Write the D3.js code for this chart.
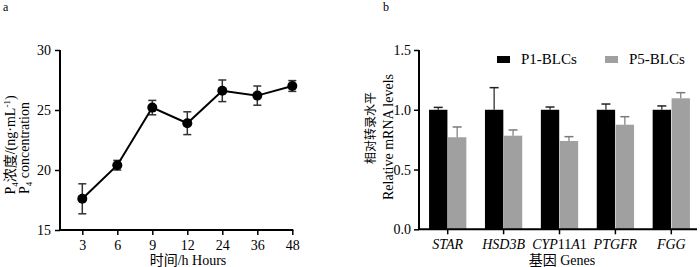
<!DOCTYPE html>
<html>
<head>
<meta charset="utf-8">
<script src="https://cdn.jsdelivr.net/npm/d3@7"></script>
<style>
  body { margin: 0; background: #fff; }
  svg text { font-family: "Liberation Serif", "Noto Sans CJK SC", serif; }
</style>
</head>
<body>
<div id="container"></div>
<script>
/* DATA */
const hours = ["3", "6", "9", "12", "24", "36", "48"];
const p4Mean = [17.6, 20.4, 25.2, 23.9, 26.6, 26.2, 27.0];
const p4Err = [1.25, 0.4, 0.6, 0.95, 0.9, 0.8, 0.45];
const p4Ticks = [15, 20, 25, 30];

const genes = ["STAR", "HSD3B", "CYP11A1", "PTGFR", "FGG"];
const series = ["P1-BLCs", "P5-BLCs"];
const p1Mean = [1.0, 1.0, 1.0, 1.0, 1.0];
const p1Err = [0.02, 0.185, 0.023, 0.048, 0.032];
const p5Mean = [0.77, 0.783, 0.739, 0.875, 1.096];
const p5Err = [0.086, 0.048, 0.036, 0.067, 0.047];
const mrnaTicks = [0, 0.5, 1.0, 1.5];

// upright digits inside CYP11A1, the rest italic
const geneParts = {
  "CYP11A1": [["CYP", true], ["11", false], ["A", true], ["1", false]]
};

const width = 700, height = 267;
const barColor = { "P1-BLCs": "#000", "P5-BLCs": "#a0a0a0" };
const errColor = { "P1-BLCs": "#222", "P5-BLCs": "#7a7a7a" };

const svg = d3.select("#container")
  .append("svg")
  .attr("width", width)
  .attr("height", height)
  .attr("font-size", 14);

/* PANEL A */
const xA = d3.scalePoint().domain(hours).range([82.3, 292.3]);
const yA = d3.scaleLinear().domain([15, 30]).range([230, 50]);

const gA = svg.append("g");

gA.append("g")
  .attr("transform", "translate(60,0)")
  .call(d3.axisLeft(yA).tickValues(p4Ticks).tickSize(5).tickSizeOuter(0).tickPadding(4))
  .call(g => g.selectAll(".domain").remove())
  .call(g => g.selectAll("line").attr("stroke-width", 1.5))
  .call(g => g.selectAll("text").attr("font-size", 14).attr("font-family", null));

gA.append("g")
  .attr("transform", "translate(0,230)")
  .call(d3.axisBottom(xA).tickSize(5).tickSizeOuter(0).tickPadding(5))
  .call(g => g.selectAll(".domain").remove())
  .call(g => g.selectAll("line").attr("stroke-width", 1.5))
  .call(g => g.selectAll("text").attr("font-size", 14).attr("font-family", null));

gA.append("path")
  .attr("d", `M60,${yA(30)}V${yA(15)}H${xA("48") + 1}`)
  .attr("fill", "none")
  .attr("stroke", "#000")
  .attr("stroke-width", 2);

const ptsA = hours.map((h, i) => ({ h, m: p4Mean[i], e: p4Err[i] }));

const errA = gA.append("g")
  .attr("stroke", "#333")
  .attr("stroke-width", 1.5)
  .selectAll("g")
  .data(ptsA)
  .join("g");
errA.append("line")
  .attr("x1", d => xA(d.h)).attr("x2", d => xA(d.h))
  .attr("y1", d => yA(d.m - d.e)).attr("y2", d => yA(d.m + d.e));
errA.append("line")
  .attr("x1", d => xA(d.h) - 4).attr("x2", d => xA(d.h) + 4)
  .attr("y1", d => yA(d.m + d.e)).attr("y2", d => yA(d.m + d.e));
errA.append("line")
  .attr("x1", d => xA(d.h) - 4).attr("x2", d => xA(d.h) + 4)
  .attr("y1", d => yA(d.m - d.e)).attr("y2", d => yA(d.m - d.e));

gA.append("path")
  .datum(ptsA)
  .attr("fill", "none")
  .attr("stroke", "#000")
  .attr("stroke-width", 2)
  .attr("d", d3.line().x(d => xA(d.h)).y(d => yA(d.m)));

gA.append("g")
  .selectAll("circle")
  .data(ptsA)
  .join("circle")
  .attr("cx", d => xA(d.h))
  .attr("cy", d => yA(d.m))
  .attr("r", 5)
  .attr("fill", "#000");

gA.append("text").attr("x", 3).attr("y", 11).attr("font-size", 12).text("a");

gA.append("text")
  .attr("text-anchor", "middle")
  .attr("x", 188).attr("y", 265)
  .text("时间/h Hours");

// rotated y label, two lines
const labA1 = gA.append("text")
  .attr("transform", "translate(15,145) rotate(-90)")
  .attr("text-anchor", "middle");
labA1.append("tspan").text("P");
labA1.append("tspan").attr("font-size", 9).attr("dy", 3).text("4");
labA1.append("tspan").attr("dy", -3).text("浓度/(ng·mL");
labA1.append("tspan").attr("font-size", 9).attr("dy", -5).text("-1");
labA1.append("tspan").attr("dy", 5).text(")");

const labA2 = gA.append("text")
  .attr("transform", "translate(29,148) rotate(-90)")
  .attr("text-anchor", "middle");
labA2.append("tspan").text("P");
labA2.append("tspan").attr("font-size", 9).attr("dy", 3).text("4");
labA2.append("tspan").attr("dy", -3).text(" concentration");

/* PANEL B */
const xB = d3.scaleBand().domain(genes).range([419.75, 699.25]).paddingInner(0.333).paddingOuter(0.1665);
const xSub = d3.scaleBand().domain(series).range([0, xB.bandwidth()]).paddingInner(0.03);
const yB = d3.scaleLinear().domain([0, 1.5]).range([229.3, 50]);

const gB = svg.append("g");

gB.append("g")
  .attr("transform", "translate(419,0)")
  .call(d3.axisLeft(yB).tickValues(mrnaTicks).tickFormat(d3.format(".1f")).tickSize(5).tickSizeOuter(0).tickPadding(3))
  .call(g => g.selectAll(".domain").remove())
  .call(g => g.selectAll("line").attr("stroke-width", 1.5))
  .call(g => g.selectAll("text").attr("font-size", 14).attr("font-family", null));

const xAxisB = gB.append("g")
  .attr("transform", "translate(0,229.3)")
  .call(d3.axisBottom(xB).tickSize(5).tickSizeOuter(0).tickPadding(5))
  .call(g => g.selectAll(".domain").remove())
  .call(g => g.selectAll("line").attr("stroke-width", 1.5));

xAxisB.selectAll(".tick").attr("transform", d => `translate(${xB(d) + xB.bandwidth() / 2},0)`);
xAxisB.selectAll(".tick text")
  .attr("font-size", 14)
  .attr("font-family", null)
  .text(null)
  .each(function (d) {
    const parts = geneParts[d] || [[d, true]];
    parts.forEach(([s, it]) => {
      d3.select(this).append("tspan")
        .attr("font-style", it ? "italic" : "normal")
        .text(s);
    });
  });

const rows = [];
genes.forEach((g, i) => {
  rows.push({ gene: g, s: series[0], m: p1Mean[i], e: p1Err[i] });
  rows.push({ gene: g, s: series[1], m: p5Mean[i], e: p5Err[i] });
});

gB.append("g")
  .selectAll("rect")
  .data(rows)
  .join("rect")
  .attr("x", d => xB(d.gene) + xSub(d.s))
  .attr("y", d => yB(d.m))
  .attr("width", xSub.bandwidth())
  .attr("height", d => yB(0) - yB(d.m))
  .attr("fill", d => barColor[d.s]);

const errB = gB.append("g")
  .selectAll("g")
  .data(rows)
  .join("g")
  .attr("stroke", d => errColor[d.s]);
errB.append("line")
  .attr("stroke-width", 1.2)
  .attr("x1", d => xB(d.gene) + xSub(d.s) + xSub.bandwidth() / 2)
  .attr("x2", d => xB(d.gene) + xSub(d.s) + xSub.bandwidth() / 2)
  .attr("y1", d => yB(d.m)).attr("y2", d => yB(d.m + d.e));
errB.append("line")
  .attr("stroke-width", 1.5)
  .attr("x1", d => xB(d.gene) + xSub(d.s) + xSub.bandwidth() / 2 - 4.5)
  .attr("x2", d => xB(d.gene) + xSub(d.s) + xSub.bandwidth() / 2 + 4.5)
  .attr("y1", d => yB(d.m + d.e)).attr("y2", d => yB(d.m + d.e));

gB.append("path")
  .attr("d", `M419,${yB(1.5)}V${yB(0)}H697`)
  .attr("fill", "none")
  .attr("stroke", "#000")
  .attr("stroke-width", 2);

// legend
const legend = gB.append("g")
  .selectAll("g")
  .data(series)
  .join("g")
  .attr("transform", (d, i) => `translate(${497 + i * 108},56)`);
legend.append("rect")
  .attr("width", 13).attr("height", 7)
  .attr("fill", d => barColor[d]);
legend.append("text")
  .attr("x", 24).attr("y", 8)
  .attr("font-size", 15)
  .text(d => d);

gB.append("text").attr("x", 383).attr("y", 11).attr("font-size", 12).text("b");

gB.append("text")
  .attr("text-anchor", "middle")
  .attr("x", 562).attr("y", 265)
  .text("基因 Genes");

gB.append("text")
  .attr("transform", "translate(375,128) rotate(-90)")
  .attr("text-anchor", "middle")
  .attr("font-size", 12)
  .text("相对转录水平");

gB.append("text")
  .attr("transform", "translate(393,137) rotate(-90)")
  .attr("text-anchor", "middle")
  .text("Relative mRNA levels");
</script>
</body>
</html>
